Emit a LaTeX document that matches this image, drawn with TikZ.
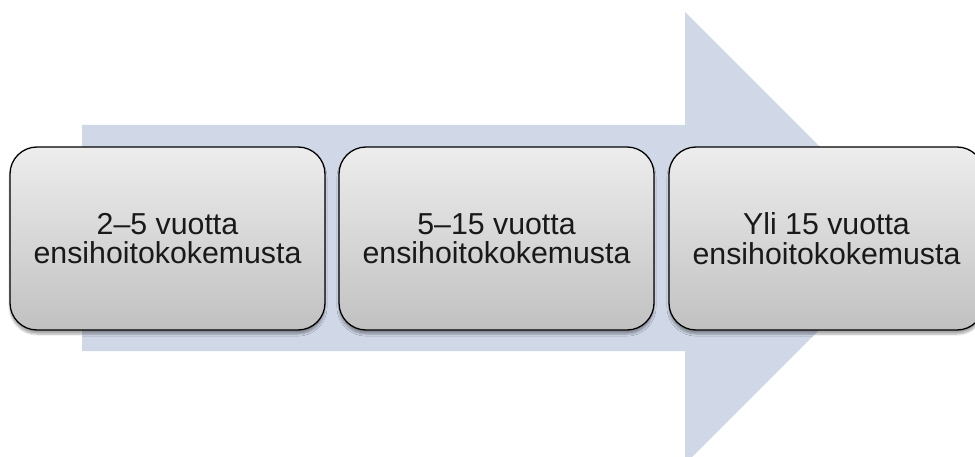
\documentclass[tikz,border=0pt]{standalone}
\usepackage{fontspec}
\setmainfont{Liberation Sans}
\usetikzlibrary{shadows.blur}
\definecolor{arrowfill}{RGB}{208,216,232}
\definecolor{boxtop}{RGB}{237,237,237}
\definecolor{boxbottom}{RGB}{193,193,193}
\begin{document}
\begin{tikzpicture}[x=1pt,y=-1pt,
  stagebox/.style={draw=black, line width=1.3pt, rounded corners=27pt,
    top color=boxtop, bottom color=boxbottom,
    blur shadow={shadow xshift=0pt, shadow yshift=-4pt, shadow blur steps=6, shadow opacity=35},
    minimum width=315pt, minimum height=183pt, inner sep=0pt,
    align=center, font=\fontsize{30.3pt}{29.5pt}\selectfont, text=black!90}]
\useasboundingbox (0,0) rectangle (975,457);
\clip (0,0) rectangle (975,457);
% background process arrow
\fill[arrowfill] (82,125) -- (685,125) -- (685,12) -- (911,238)
  -- (685,464) -- (685,351) -- (82,351) -- cycle;
% stages
\node[stagebox] (s1) at (167.5,238.5) {2–5 vuotta\\ensihoitokokemusta};
\node[stagebox] (s2) at (496.5,238.5) {5–15 vuotta\\ensihoitokokemusta};
\node[stagebox] (s3) at (826.5,238.5) {Yli 15 vuotta\\ensihoitokokemusta};
\end{tikzpicture}
\end{document}
